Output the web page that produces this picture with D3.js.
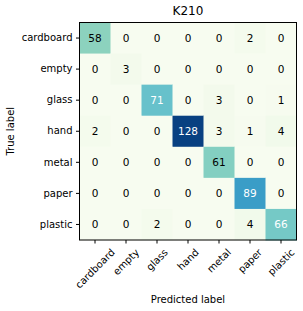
<!DOCTYPE html>
<html><head><meta charset="utf-8">
<script src="https://cdn.jsdelivr.net/npm/d3@7/dist/d3.min.js"></script>
<style>body{margin:0;background:#fff;} text{font-family:"DejaVu Sans",sans-serif;}</style>
</head><body>
<svg id="c" width="303" height="311"></svg>
<script>
const classes = ["cardboard","empty","glass","hand","metal","paper","plastic"];
const matrix = [
  [58,0,0,0,0,2,0],
  [0,3,0,0,0,0,0],
  [0,0,71,0,3,0,1],
  [2,0,0,128,3,1,4],
  [0,0,0,0,61,0,0],
  [0,0,0,0,0,89,0],
  [0,0,2,0,0,4,66]
];
const title = "K210";
const xTitle = "Predicted label";
const yTitle = "True label";

const svg = d3.select("#c");
const L = 79.5, T = 22.5, W = 217, H = 217.5;
const x = d3.scaleBand().domain(classes).range([L, L+W]);
const y = d3.scaleBand().domain(classes).range([T, T+H]);
const maxV = d3.max(matrix.flat());
const gnbu = d3.schemeGnBu[9];
const color = d3.scaleLinear().domain(d3.range(9).map(i => i/8*maxV)).range(gnbu).interpolate(d3.interpolateRgb);

const cells = [];
matrix.forEach((row,i)=>row.forEach((v,j)=>cells.push({r:classes[i],c:classes[j],v})));

svg.append("g").selectAll("rect").data(cells).join("rect")
  .attr("x", d=>x(d.c)).attr("y", d=>y(d.r))
  .attr("width", x.bandwidth()+0.5).attr("height", y.bandwidth()+0.5)
  .attr("fill", d=>color(d.v));

svg.append("g").selectAll("text").data(cells).join("text")
  .attr("x", d=>x(d.c)+x.bandwidth()/2).attr("y", d=>y(d.r)+y.bandwidth()/2)
  .attr("text-anchor","middle").attr("dominant-baseline","central")
  .attr("font-size",10.5)
  .attr("fill", d=> d.v > maxV/2 ? "#fff" : "#000")
  .text(d=>d.v);

svg.append("rect").attr("x",L).attr("y",T).attr("width",W).attr("height",H)
  .attr("fill","none").attr("stroke","#000").attr("stroke-width",1);

// y axis
const ya = svg.append("g").attr("transform",`translate(${L},0)`)
  .call(d3.axisLeft(y).tickSize(3.5).tickPadding(3.5));
ya.select(".domain").remove();
ya.selectAll("text").attr("font-size",10).attr("fill","#000").style("font-family","DejaVu Sans");
ya.selectAll("line").attr("stroke","#000");

// x axis
const xa = svg.append("g").attr("transform",`translate(0,${T+H})`)
  .call(d3.axisBottom(x).tickSize(3.5).tickFormat(""));
xa.select(".domain").remove();
xa.selectAll("line").attr("stroke","#000");
const top0 = T+H+7;
svg.append("g").selectAll("text").data(classes).join("text")
  .attr("font-size",10).attr("text-anchor","middle").attr("dominant-baseline","central")
  .text(d=>d)
  .each(function(d){
    const w = this.getComputedTextLength(), h = 10;
    const half = (w+h)*Math.SQRT1_2/2;
    const cx = x(d)+x.bandwidth()/2, cy = top0+half;
    d3.select(this).attr("transform",`translate(${cx},${cy}) rotate(-45)`);
  });

svg.append("text").attr("x",L+W/2).attr("y",15).attr("text-anchor","middle")
  .attr("font-size",12).text(title);
svg.append("text").attr("x",L+W/2).attr("y",303).attr("text-anchor","middle")
  .attr("font-size",10).text(xTitle);
svg.append("text").attr("transform",`translate(14,${T+H/2}) rotate(-90)`).attr("text-anchor","middle")
  .attr("font-size",10).text(yTitle);
</script>
</body></html>
